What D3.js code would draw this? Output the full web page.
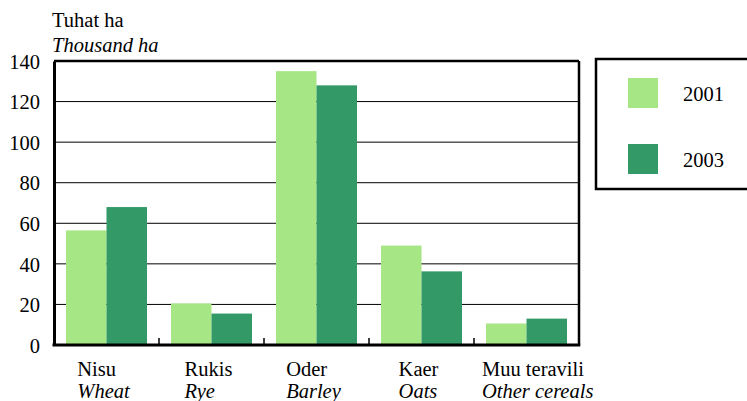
<!DOCTYPE html>
<html>
<head>
<meta charset="utf-8">
<script src="https://cdn.jsdelivr.net/npm/d3@7"></script>
<style>
  body { margin: 0; background: #fff; }
  svg text { font-family: "Liberation Serif", "Times New Roman", Times, "DejaVu Serif", serif; fill: #000; }
</style>
</head>
<body>
<div id="chart"></div>
<script>
var categories = ['Nisu', 'Rukis', 'Oder', 'Kaer', 'Muu teravili'];
var categoriesEn = ['Wheat', 'Rye', 'Barley', 'Oats', 'Other cereals'];
var seriesNames = ['2001', '2003'];
var values2001 = [56.5, 20.5, 135, 49, 10.6];
var values2003 = [68, 15.5, 128, 36.3, 13];
var yTicks = [0, 20, 40, 60, 80, 100, 120, 140];

var W = 747, H = 401;
var margin = {top: 61, left: 54, right: 168, bottom: 56};
var width = W - margin.left - margin.right,
    height = H - margin.top - margin.bottom;
var colors = ['#a6e685', '#339966'];
var fs = '20.5px';
var serif = '"Liberation Serif", "Times New Roman", Times, "DejaVu Serif", serif';

var svg = d3.select('#chart').append('svg')
  .attr('width', W).attr('height', H)
  .attr('font-family', serif);

var g = svg.append('g')
  .attr('transform', 'translate(' + margin.left + ',' + margin.top + ')');

var x0 = d3.scaleBand().domain(categories).range([0, width]).paddingInner(0).paddingOuter(0);
var x1 = d3.scaleBand().domain(seriesNames).range([12, x0.bandwidth() - 12]);
var y = d3.scaleLinear().domain([0, 140]).range([height, 0]);

// gridlines
g.append('g')
  .selectAll('line')
  .data(yTicks.slice(1, -1))
  .enter().append('line')
  .attr('x1', 0).attr('x2', width)
  .attr('y1', function(d){ return y(d); })
  .attr('y2', function(d){ return y(d); })
  .style('stroke', '#000').style('stroke-width', '1px');

// bars
var series = [values2001, values2003];
series.forEach(function(vals, i) {
  g.append('g').selectAll('rect')
    .data(vals)
    .enter().append('rect')
    .attr('x', function(d, j){ return x0(categories[j]) + x1(seriesNames[i]); })
    .attr('width', x1.bandwidth())
    .attr('y', function(d){ return y(d); })
    .attr('height', function(d){ return height - y(d); })
    .style('fill', colors[i]);
});

// frame: top and right thinner, left and bottom heavy
g.append('line').attr('x1', 0).attr('x2', width).attr('y1', 0).attr('y2', 0)
  .style('stroke', '#000').style('stroke-width', '2.5px');
g.append('line').attr('x1', width).attr('x2', width).attr('y1', 0).attr('y2', height)
  .style('stroke', '#000').style('stroke-width', '2.5px');

// y axis
var yAxis = g.append('g')
  .call(d3.axisLeft(y).tickValues(yTicks).tickSize(0).tickPadding(14));
yAxis.attr('font-family', serif);
yAxis.select('.domain').style('stroke', '#000').style('stroke-width', '3px');
yAxis.selectAll('text').style('font-size', fs).attr('dy', '0.35em');

// x axis with ticks pointing upward at band boundaries
var xAxis = g.append('g')
  .attr('transform', 'translate(0,' + height + ')');
xAxis.append('line').attr('x1', -1.5).attr('x2', width + 1.25).attr('y1', 0).attr('y2', 0)
  .style('stroke', '#000').style('stroke-width', '3px');
xAxis.selectAll('line.tk')
  .data(categories.slice(1))
  .enter().append('line')
  .attr('class', 'tk')
  .attr('x1', function(d){ return x0(d); })
  .attr('x2', function(d){ return x0(d); })
  .attr('y1', 0).attr('y2', -7)
  .style('stroke', '#000').style('stroke-width', '1.5px');

// category labels: two-line block centred on band, lines left aligned;
// a block wider than its band starts just inside the band instead
categories.forEach(function(c, i) {
  var lab = xAxis.append('g');
  var t1 = lab.append('text').attr('y', 31).style('font-size', fs).text(c);
  var t2 = lab.append('text').attr('y', 53).style('font-size', fs)
    .style('font-style', 'italic').text(categoriesEn[i]);
  var bw = Math.max(t1.node().getComputedTextLength(), t2.node().getComputedTextLength());
  var cx = x0(c) + x0.bandwidth() / 2;
  var left = cx - bw / 2 - 3;
  if (bw > x0.bandwidth()) left = x0(c) + 8;
  lab.attr('transform', 'translate(' + left + ',0)');
});

// unit title
svg.append('text').attr('x', 52).attr('y', 27).style('font-size', fs).text('Tuhat ha');
svg.append('text').attr('x', 52).attr('y', 52).style('font-size', fs)
  .style('font-style', 'italic').text('Thousand ha');

// legend
var legend = svg.append('g').attr('transform', 'translate(596,59)');
legend.append('rect').attr('x', 0).attr('y', 0).attr('width', 160).attr('height', 130)
  .style('fill', '#fff').style('stroke', '#000').style('stroke-width', '2.5px');
seriesNames.forEach(function(s, i) {
  var row = legend.append('g').attr('transform', 'translate(0,' + (i * 66) + ')');
  row.append('rect').attr('x', 32).attr('y', 19).attr('width', 30).attr('height', 30)
    .style('fill', colors[i]);
  row.append('text').attr('x', 87).attr('y', 42).style('font-size', fs).text(s);
});
</script>
</body>
</html>
